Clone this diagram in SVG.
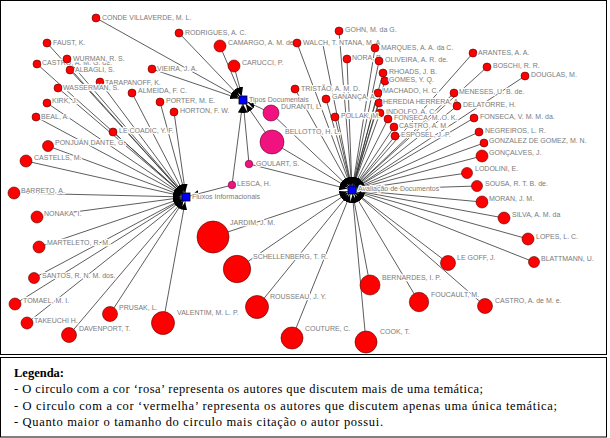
<svg xmlns="http://www.w3.org/2000/svg" width="610" height="438" viewBox="0 0 610 438">
<style>
.e{stroke:#333;stroke-width:0.8;fill:none;marker-end:url(#ah)}
.r{fill:#ff0000;stroke:#5a0000;stroke-width:0.6}
.p{fill:#f0127f;stroke:#6a0030;stroke-width:0.6}
.h{fill:#0000ff;stroke:#000;stroke-width:0.8}
.l{font-family:"Liberation Sans",Arial,sans-serif;font-size:7px;fill:#7a7a7a;stroke:#fff;stroke-width:2.4;stroke-linejoin:round;paint-order:stroke}
.lg{font-family:"Liberation Serif","Times New Roman",serif;font-size:12.5px;fill:#000}
</style>
<defs>
<marker id="ah" markerUnits="userSpaceOnUse" markerWidth="20" markerHeight="10" refX="13" refY="3.5" orient="auto"><path d="M0,0 L8,3.5 L0,7 z" fill="#000"/></marker>
</defs>
<rect x="0.5" y="0.5" width="606" height="354" fill="#fff" stroke="#000"/>
<g id="connectors">
<!-- Fluxos -->
<line class="e" x1="47" y1="43" x2="186" y2="197"/>
<line class="e" x1="67" y1="59" x2="186" y2="197"/>
<line class="e" x1="37" y1="64" x2="186" y2="197"/>
<line class="e" x1="70" y1="70" x2="186" y2="197"/>
<line class="e" x1="100" y1="82" x2="186" y2="197"/>
<line class="e" x1="58" y1="88" x2="186" y2="197"/>
<line class="e" x1="47" y1="103" x2="186" y2="197"/>
<line class="e" x1="36" y1="117" x2="186" y2="197"/>
<line class="e" x1="113" y1="132" x2="186" y2="197"/>
<line class="e" x1="48" y1="146" x2="186" y2="197"/>
<line class="e" x1="26" y1="161" x2="186" y2="197"/>
<line class="e" x1="132" y1="93" x2="186" y2="197"/>
<line class="e" x1="160" y1="102" x2="186" y2="197"/>
<line class="e" x1="174" y1="112" x2="186" y2="197"/>
<line class="e" x1="14" y1="193" x2="186" y2="197"/>
<line class="e" x1="37" y1="217" x2="186" y2="197"/>
<line class="e" x1="39" y1="247" x2="186" y2="197"/>
<line class="e" x1="34" y1="278" x2="186" y2="197"/>
<line class="e" x1="15" y1="304" x2="186" y2="197"/>
<line class="e" x1="27" y1="323" x2="186" y2="197"/>
<line class="e" x1="69" y1="335" x2="186" y2="197"/>
<line class="e" x1="110" y1="314" x2="186" y2="197"/>
<line class="e" x1="163" y1="323" x2="186" y2="197"/>
<line class="e" x1="232" y1="185" x2="186" y2="197"/>
<!-- Tipos -->
<line class="e" x1="96" y1="18" x2="243" y2="100"/>
<line class="e" x1="179" y1="33" x2="243" y2="100"/>
<line class="e" x1="152" y1="69" x2="243" y2="100"/>
<line class="e" x1="220" y1="46" x2="243" y2="100"/>
<line class="e" x1="234" y1="66" x2="243" y2="100"/>
<line class="e" x1="271" y1="113" x2="243" y2="100"/>
<line class="e" x1="272" y1="142" x2="243" y2="100"/>
<line class="e" x1="249" y1="164" x2="243" y2="100"/>
<line class="e" x1="232" y1="185" x2="243" y2="100"/>
<!-- Avaliacao -->
<line class="e" x1="297" y1="43" x2="352" y2="190"/>
<line class="e" x1="339" y1="31" x2="352" y2="190"/>
<line class="e" x1="323" y1="45" x2="352" y2="190"/>
<line class="e" x1="375" y1="48" x2="352" y2="190"/>
<line class="e" x1="347" y1="59" x2="352" y2="190"/>
<line class="e" x1="379" y1="61" x2="352" y2="190"/>
<line class="e" x1="383" y1="73" x2="352" y2="190"/>
<line class="e" x1="385" y1="81" x2="352" y2="190"/>
<line class="e" x1="295" y1="89" x2="352" y2="190"/>
<line class="e" x1="378" y1="93" x2="352" y2="190"/>
<line class="e" x1="326" y1="99" x2="352" y2="190"/>
<line class="e" x1="379" y1="103" x2="352" y2="190"/>
<line class="e" x1="380" y1="113" x2="352" y2="190"/>
<line class="e" x1="335" y1="117" x2="352" y2="190"/>
<line class="e" x1="388" y1="119" x2="352" y2="190"/>
<line class="e" x1="394" y1="127" x2="352" y2="190"/>
<line class="e" x1="395" y1="136" x2="352" y2="190"/>
<line class="e" x1="473" y1="53" x2="352" y2="190"/>
<line class="e" x1="487" y1="67" x2="352" y2="190"/>
<line class="e" x1="525" y1="76" x2="352" y2="190"/>
<line class="e" x1="454" y1="93" x2="352" y2="190"/>
<line class="e" x1="457" y1="106" x2="352" y2="190"/>
<line class="e" x1="474" y1="118" x2="352" y2="190"/>
<line class="e" x1="479" y1="132" x2="352" y2="190"/>
<line class="e" x1="484" y1="143" x2="352" y2="190"/>
<line class="e" x1="482" y1="156" x2="352" y2="190"/>
<line class="e" x1="467" y1="173" x2="352" y2="190"/>
<line class="e" x1="477" y1="186" x2="352" y2="190"/>
<line class="e" x1="482" y1="202" x2="352" y2="190"/>
<line class="e" x1="504" y1="218" x2="352" y2="190"/>
<line class="e" x1="528" y1="239" x2="352" y2="190"/>
<line class="e" x1="534" y1="262" x2="352" y2="190"/>
<line class="e" x1="448" y1="263" x2="352" y2="190"/>
<line class="e" x1="485" y1="306" x2="352" y2="190"/>
<line class="e" x1="419" y1="302" x2="352" y2="190"/>
<line class="e" x1="370" y1="285" x2="352" y2="190"/>
<line class="e" x1="366" y1="342" x2="352" y2="190"/>
<line class="e" x1="292" y1="338" x2="352" y2="190"/>
<line class="e" x1="257" y1="307" x2="352" y2="190"/>
<line class="e" x1="237" y1="269" x2="352" y2="190"/>
<line class="e" x1="213" y1="237" x2="352" y2="190"/>
<line class="e" x1="271" y1="113" x2="352" y2="190"/>
<line class="e" x1="272" y1="142" x2="352" y2="190"/>
<line class="e" x1="249" y1="164" x2="352" y2="190"/>
</g>
<!-- Fluxos authors -->
<g id="n-conde"><circle class="r" cx="96" cy="18" r="4"/><text class="l" x="102" y="20">CONDE VILLAVERDE, M. L.</text></g>
<g id="n-rodrigues"><circle class="r" cx="179" cy="33" r="4"/><text class="l" x="185" y="35">RODRIGUES, A. C.</text></g>
<g id="n-faust"><circle class="r" cx="47" cy="43" r="4"/><text class="l" x="53" y="45">FAUST, K.</text></g>
<g id="n-castro-amg"><circle class="r" cx="37" cy="64" r="4"/><text class="l" x="42" y="65">CASTRO, A. M. G. de.</text></g>
<g id="n-wurman"><circle class="r" cx="67" cy="59" r="4"/><text class="l" x="73" y="60.5">WURMAN, R. S.</text></g>
<g id="n-albagli"><circle class="r" cx="70" cy="70" r="4"/><text class="l" x="75" y="72">ALBAGLI, S.</text></g>
<g id="n-tarapanoff"><circle class="r" cx="100" cy="82" r="4"/><text class="l" x="105" y="85">TARAPANOFF, K.</text></g>
<g id="n-wasserman"><circle class="r" cx="58" cy="88" r="4"/><text class="l" x="63" y="90">WASSERMAN, S.</text></g>
<g id="n-almeida"><circle class="r" cx="132" cy="93" r="4"/><text class="l" x="138" y="93">ALMEIDA, F. C.</text></g>
<g id="n-porter"><circle class="r" cx="160" cy="102" r="4"/><text class="l" x="166" y="102.5">PORTER, M. E.</text></g>
<g id="n-horton"><circle class="r" cx="174" cy="112" r="4"/><text class="l" x="180" y="112.5">HORTON, F. W.</text></g>
<g id="n-kirk"><circle class="r" cx="47" cy="103" r="4"/><text class="l" x="52" y="103">KIRK, J.</text></g>
<g id="n-beal"><circle class="r" cx="36" cy="117" r="4"/><text class="l" x="41" y="119">BEAL, A.</text></g>
<g id="n-lecoadic"><circle class="r" cx="113" cy="132" r="4"/><text class="l" x="119" y="133">LE COADIC, Y. F.</text></g>
<g id="n-ponjuan"><circle class="r" cx="48" cy="146" r="5.5"/><text class="l" x="55" y="145">PONJUÁN DANTE, G.</text></g>
<g id="n-castells"><circle class="r" cx="26" cy="161" r="6"/><text class="l" x="34" y="160">CASTELLS, M.</text></g>
<g id="n-vieira"><circle class="r" cx="152" cy="69" r="4"/><text class="l" x="157" y="71">VIEIRA, J. A.</text></g>
<g id="n-barreto"><circle class="r" cx="14" cy="193" r="6"/><text class="l" x="21" y="192.5">BARRETO, A.</text></g>
<g id="n-nonaka"><circle class="r" cx="37" cy="217" r="6"/><text class="l" x="44" y="216">NONAKA, I.</text></g>
<g id="n-marteleto"><circle class="r" cx="39" cy="247" r="6"/><text class="l" x="47" y="245">MARTELETO, R. M.</text></g>
<g id="n-santos"><circle class="r" cx="34" cy="278" r="5.5"/><text class="l" x="42" y="278">SANTOS, R. N. M. dos.</text></g>
<g id="n-tomael"><circle class="r" cx="15" cy="304" r="6"/><text class="l" x="23" y="302.5">TOMAEL, M. I.</text></g>
<g id="n-takeuchi"><circle class="r" cx="27" cy="323" r="6"/><text class="l" x="34" y="322.5">TAKEUCHI H.</text></g>
<g id="n-prusak"><circle class="r" cx="110" cy="314" r="7.5"/><text class="l" x="119" y="310">PRUSAK, L.</text></g>
<g id="n-davenport"><circle class="r" cx="69" cy="335" r="7.5"/><text class="l" x="79" y="331">DAVENPORT, T.</text></g>
<g id="n-valentim"><circle class="r" cx="163" cy="323" r="11.5"/><text class="l" x="177" y="315">VALENTIM, M. L. P.</text></g>
<!-- Tipos authors -->
<g id="n-camargo"><circle class="r" cx="220" cy="46" r="6"/><text class="l" x="228" y="45">CAMARGO, A. M. de</text></g>
<g id="n-carucci"><circle class="r" cx="234" cy="66" r="6"/><text class="l" x="242" y="64.5">CARUCCI, P.</text></g>
<g id="n-duranti"><circle class="p" cx="271" cy="113" r="8"/><text class="l" x="281" y="108.5">DURANTI, L.</text></g>
<g id="n-bellotto"><circle class="p" cx="272" cy="142" r="12"/><text class="l" x="285" y="133.5">BELLOTTO, H. L.</text></g>
<g id="n-goulart"><circle class="p" cx="249" cy="164" r="3.8"/><text class="l" x="256" y="166">GOULART, S.</text></g>
<g id="n-lesca"><circle class="p" cx="232" cy="185" r="3.8"/><text class="l" x="237" y="186">LESCA, H.</text></g>
<!-- Avaliacao authors -->
<g id="n-fontana"><text class="l" x="339" y="44.5">NTANA, M. A.</text></g>
<g id="n-walch"><circle class="r" cx="297" cy="43" r="4"/><text class="l" x="303" y="44.5">WALCH, T.</text></g>
<g id="n-gohn"><circle class="r" cx="339" cy="31" r="4"/><text class="l" x="345" y="31.5">GOHN, M. da G.</text></g>
<g id="n-marques"><circle class="r" cx="375" cy="48" r="4"/><text class="l" x="381" y="49.5">MARQUES, A. A. da C.</text></g>
<g id="n-nora"><circle class="r" cx="347" cy="59" r="4"/><text class="l" x="352" y="60">NORA, P.</text></g>
<g id="n-oliveira"><circle class="r" cx="379" cy="61" r="4"/><text class="l" x="385" y="61.5">OLIVEIRA, A. R. de.</text></g>
<g id="n-gomes"><circle class="r" cx="385" cy="81" r="4"/><text class="l" x="389" y="82">GOMES, Y. Q.</text></g>
<g id="n-rhoads"><circle class="r" cx="383" cy="73" r="4"/><text class="l" x="389" y="74">RHOADS, J. B.</text></g>
<g id="n-tristao"><circle class="r" cx="295" cy="89" r="4"/><text class="l" x="301" y="90.5">TRISTÃO, A. M. D.</text></g>
<g id="n-machado"><circle class="r" cx="378" cy="93" r="4"/><text class="l" x="383" y="93">MACHADO, H. C.</text></g>
<g id="n-ganança"><circle class="r" cx="326" cy="99" r="4"/><text class="l" x="332" y="99">GANANÇA, A.</text></g>
<g id="n-indolfo"><circle class="r" cx="380" cy="113" r="4"/><text class="l" x="386" y="113.5">INDOLFO, A. C.</text></g>
<g id="n-heredia"><circle class="r" cx="379" cy="103" r="4"/><text class="l" x="383" y="104">HEREDIA HERRERA, A.</text></g>
<g id="n-pollak"><circle class="r" cx="335" cy="117" r="4"/><text class="l" x="341" y="118">POLLAK, M.</text></g>
<g id="n-fonseca-mok"><circle class="r" cx="388" cy="119" r="4"/><text class="l" x="394" y="120">FONSECA, M. O. K.</text></g>
<g id="n-castro-am"><circle class="r" cx="394" cy="127" r="4"/><text class="l" x="399" y="127.5">CASTRO, A. M.</text></g>
<g id="n-esposel"><circle class="r" cx="395" cy="136" r="4"/><text class="l" x="401" y="137">ESPOSEL, J. P.</text></g>
<g id="n-arantes"><circle class="r" cx="473" cy="53" r="4"/><text class="l" x="478" y="55">ARANTES, A. A.</text></g>
<g id="n-boschi"><circle class="r" cx="487" cy="67" r="4"/><text class="l" x="493" y="68">BOSCHI, R. R.</text></g>
<g id="n-douglas"><circle class="r" cx="525" cy="76" r="4"/><text class="l" x="531" y="76.5">DOUGLAS, M.</text></g>
<g id="n-delatorre"><circle class="r" cx="457" cy="106" r="4"/><text class="l" x="463" y="106.5">DELATORRE, H.</text></g>
<g id="n-meneses"><circle class="r" cx="454" cy="93" r="4"/><text class="l" x="459" y="94">MENESES, U. B. de.</text></g>
<g id="n-fonseca-vmm"><circle class="r" cx="474" cy="118" r="4"/><text class="l" x="480" y="119">FONSECA, V. M. M. da.</text></g>
<g id="n-negreiros"><circle class="r" cx="479" cy="132" r="4"/><text class="l" x="485" y="132.5">NEGREIROS, L. R.</text></g>
<g id="n-gonzalez"><circle class="r" cx="484" cy="143" r="4"/><text class="l" x="489" y="143">GONZALEZ DE GOMEZ, M. N.</text></g>
<g id="n-goncalves"><circle class="r" cx="482" cy="156" r="6"/><text class="l" x="489" y="155">GONÇALVES, J.</text></g>
<g id="n-lodolini"><circle class="r" cx="467" cy="173" r="5.5"/><text class="l" x="475" y="171">LODOLINI, E.</text></g>
<g id="n-sousa"><circle class="r" cx="477" cy="186" r="5.5"/><text class="l" x="485" y="186">SOUSA, R. T. B. de.</text></g>
<g id="n-moran"><circle class="r" cx="482" cy="202" r="6"/><text class="l" x="489" y="201">MORAN, J. M.</text></g>
<g id="n-silva"><circle class="r" cx="504" cy="218" r="6"/><text class="l" x="512" y="217">SILVA, A. M. da</text></g>
<g id="n-lopes"><circle class="r" cx="528" cy="239" r="6"/><text class="l" x="536" y="238.5">LOPES, L. C.</text></g>
<g id="n-blattmann"><circle class="r" cx="534" cy="262" r="5.5"/><text class="l" x="541" y="261">BLATTMANN, U.</text></g>
<g id="n-legoff"><circle class="r" cx="448" cy="263" r="7.5"/><text class="l" x="457" y="260">LE GOFF, J.</text></g>
<g id="n-foucault"><circle class="r" cx="419" cy="302" r="9.7"/><text class="l" x="431" y="296.5">FOUCAULT, M.</text></g>
<g id="n-castro-ame"><circle class="r" cx="485" cy="306" r="7.5"/><text class="l" x="495" y="302.5">CASTRO, A. de M. e.</text></g>
<g id="n-bernardes"><circle class="r" cx="370" cy="285" r="10"/><text class="l" x="382" y="280">BERNARDES, I. P.</text></g>
<g id="n-cook"><circle class="r" cx="366" cy="342" r="11"/><text class="l" x="380" y="334">COOK, T.</text></g>
<g id="n-couture"><circle class="r" cx="292" cy="338" r="11"/><text class="l" x="305" y="331">COUTURE, C.</text></g>
<g id="n-rousseau"><circle class="r" cx="257" cy="307" r="11.5"/><text class="l" x="270" y="299">ROUSSEAU, J. Y.</text></g>
<g id="n-schellenberg"><circle class="r" cx="237" cy="269" r="13.7"/><text class="l" x="253" y="259">SCHELLENBERG, T. R.</text></g>
<g id="n-jardim"><circle class="r" cx="213" cy="237" r="16"/><text class="l" x="230" y="225">JARDIM, J. M.</text></g>
<!-- hubs -->
<g id="hub-tipos"><rect class="h" x="239" y="96" width="8" height="8"/><text class="l" x="249" y="101.5">Tipos Documentais</text></g>
<g id="hub-fluxos"><rect class="h" x="182" y="193" width="8" height="8"/><text class="l" x="192" y="198.5">Fluxos Informacionais</text></g>
<g id="hub-avaliacao"><rect class="h" x="348" y="186" width="8" height="8"/><text class="l" x="358" y="191">Avaliação de Documentos</text></g>
<g id="legend">
<rect x="0.5" y="357.5" width="606" height="79.5" fill="#fff" stroke="#000"/>
<text class="lg" x="14" y="377" font-weight="bold">Legenda:</text>
<text class="lg" x="14" y="393" textLength="469" lengthAdjust="spacing">- O circulo com a cor ‘rosa’ representa os autores que discutem mais de uma temática;</text>
<text class="lg" x="14" y="410" textLength="543" lengthAdjust="spacing">- O circulo com a cor ‘vermelha’ representa os autores que discutem apenas uma única temática;</text>
<text class="lg" x="14" y="426" textLength="369" lengthAdjust="spacing">- Quanto maior o tamanho do circulo mais citação o autor possui.</text>
</g>
</svg>
